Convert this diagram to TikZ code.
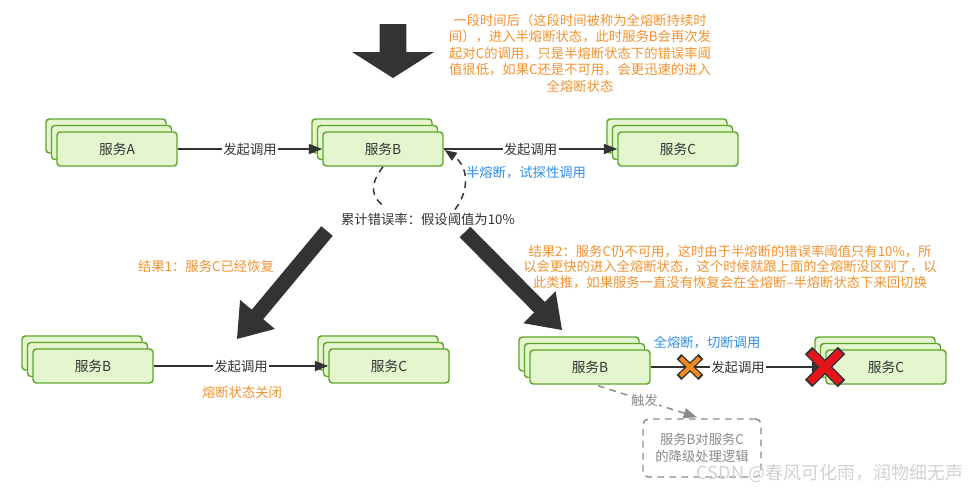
\documentclass[tikz,border=0pt]{standalone}
\usepackage{fontspec}
\setmainfont{Noto Sans CJK SC}
\usetikzlibrary{arrows.meta,calc}
\definecolor{boxfill}{HTML}{E3F6CE}
\definecolor{boxline}{HTML}{5FA52B}
\definecolor{orangetxt}{HTML}{F2922E}
\definecolor{bluetxt}{HTML}{2F8FE6}
\definecolor{ink}{HTML}{333333}
\definecolor{graytxt}{HTML}{8A8A8A}
\definecolor{crossred}{HTML}{E8141B}
\definecolor{crossorange}{HTML}{F28A1E}
\newcommand{\txtfont}{\fontsize{10}{12.4}\selectfont}
\newcommand{\svcstack}[3]{%
  \node[svcbox] (#1b) at ($(#2)+(-11,-13)$) {};
  \node[svcbox] (#1m) at ($(#2)+(-5.5,-6.5)$) {};
  \node[svcbox] (#1) at (#2) {#3};
}
\newcommand{\bigarrow}[5]{%
  \coordinate (bah) at ($(#2)!#5!(#1)$);
  \fill[ink] ($(#1)!#3!90:(#2)$) -- ($(bah)!#3!90:(#2)$) -- ($(bah)!#4!90:(#2)$)
    -- (#2) -- ($(bah)!#4!-90:(#2)$) -- ($(bah)!#3!-90:(#2)$) -- ($(#1)!#3!-90:(#2)$) -- cycle;
}
\tikzset{
  svcbox/.style={draw=boxline, fill=boxfill, line width=1.1pt, rounded corners=2.5pt,
    minimum width=90pt, minimum height=25.5pt, inner sep=0pt, font=\fontsize{10.3}{12.4}\selectfont, text=ink},
  conn/.style={draw=ink, line width=1.1pt, -{Triangle[length=10pt,width=7.5pt]}},
  lbl/.style={fill=white, inner sep=1pt, font=\txtfont, text=ink},
  plain/.style={inner sep=0pt, font=\txtfont, align=center},
  loopd/.style={draw=ink, line width=1.1pt, dash pattern=on 5pt off 4pt},
  grayd/.style={draw=graytxt, line width=1.1pt, dash pattern=on 5pt off 4pt},
}
\begin{document}
\begin{tikzpicture}[x=0.75pt, y=-0.75pt]
\useasboundingbox (0,0) rectangle (974,494);
\fill[white] (0,0) rectangle (974,494);

% top arrow and text
\coordinate (ta1) at (393,24);
\coordinate (ta2) at (393,78);
\bigarrow{ta1}{ta2}{10.1pt}{30.7pt}{19.5pt}
\node[plain, text=orangetxt] (toptxt) at (580,53) {一段时间后（这段时间被称为全熔断持续时\\间），进入半熔断状态，此时服务B会再次发\\起对C的调用，只是半熔断状态下的错误率阈\\值很低，如果C还是不可用，会更迅速的进入\\全熔断状态};

% top row
\svcstack{A}{117,149}{服务A}
\svcstack{B}{383,149}{服务B}
\svcstack{C}{678,149}{服务C}
\draw[conn] (A) -- node[lbl]{发起调用} (B);
\draw[conn] (B) -- node[lbl, pos=0.5]{发起调用} (C);

\node[plain, text=ink] (err) at (428,219) {累计错误率：假设阈值为10\%};
\draw[loopd] (B.south) .. controls ($(B.south)+(-14,18)$) and ($(B.south)+(-12,31)$) .. ($(B.south)+(2,40)$);
\draw[loopd, -{Triangle[length=9pt,width=7pt]}] ($(err.north)+(27,-3)$) .. controls ($(err.north)+(44,-26)$) and ($(err.north)+(38,-48)$) .. ($(B.east)+(1,1)$);
\node[plain, text=bluetxt] (half) at (526,173) {半熔断，试探性调用};

% diagonal arrows
\coordinate (la1) at (327,231);
\coordinate (la2) at (237,339);
\bigarrow{la1}{la2}{5.6pt}{17pt}{24pt}
\coordinate (ra1) at (465,232);
\coordinate (ra2) at (562,330);
\bigarrow{ra1}{ra2}{5.6pt}{17pt}{24pt}

\node[plain, text=orangetxt] (res1) at (206,266) {结果1：服务C已经恢复};
\node[plain, text=orangetxt, font=\fontsize{10}{11.6}\selectfont] (res2) at (730,267) {结果2：服务C仍不可用，这时由于半熔断的错误率阈值只有10\%，所\\以会更快的进入全熔断状态，这个时候就跟上面的全熔断没区别了，以\\此类推，如果服务一直没有恢复会在全熔断–半熔断状态下来回切换};

% bottom left
\svcstack{B2}{93,366}{服务B}
\svcstack{C2}{389,366}{服务C}
\draw[conn] (B2) -- node[lbl]{发起调用} (C2);
\node[plain, text=orangetxt] (closed) at (242,392) {熔断状态关闭};

% bottom right
\svcstack{B3}{590,367}{服务B}
\svcstack{C3}{886,367}{服务C}
\draw[conn] (B3) -- node[lbl, pos=0.5]{发起调用} (C3);
\node[plain, text=bluetxt] (cut) at (707,343) {全熔断，切断调用};

% orange cross
\coordinate (xo) at (690,367);
\draw[ink, line width=5.2pt] ($(xo)+(-11,-10.5)$) -- ($(xo)+(11,10.5)$) ($(xo)+(-11,10.5)$) -- ($(xo)+(11,-10.5)$);
\draw[crossorange, line width=3.2pt] ($(xo)+(-9.5,-9)$) -- ($(xo)+(9.5,9)$) ($(xo)+(-9.5,9)$) -- ($(xo)+(9.5,-9)$);
% red cross
\coordinate (xr) at (825,367);
\draw[ink, line width=7.8pt] ($(xr)+(-16.5,-16.5)$) -- ($(xr)+(16.5,16.5)$) ($(xr)+(-16.5,16.5)$) -- ($(xr)+(16.5,-16.5)$);
\draw[crossred, line width=5.6pt] ($(xr)+(-15,-15)$) -- ($(xr)+(15,15)$) ($(xr)+(-15,15)$) -- ($(xr)+(15,-15)$);

% fallback
\node[grayd, rounded corners=4pt, minimum width=88.5pt, minimum height=43.5pt, plain, text=graytxt] (fb) at (702,448) {服务B对服务C\\的降级处理逻辑};
\draw[grayd, -{Triangle[length=10pt,width=7.5pt]}] ($(B3.south)+(8,1)$) -- node[lbl, text=graytxt, pos=0.47]{触发} ($(fb.north)+(-5,-1)$);

% watermark
\node[plain, text=gray!35, font=\fontsize{13.5}{14}\selectfont] (wm) at (830,473) {CSDN @春风可化雨，润物细无声};
\end{tikzpicture}
\end{document}
